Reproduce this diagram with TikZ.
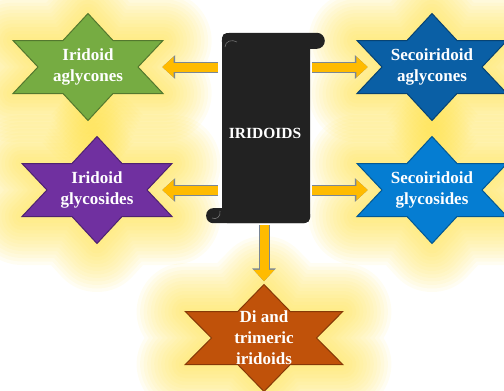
\documentclass[tikz,border=0pt]{standalone}
\usepackage{fontspec}
\setmainfont{Liberation Serif}
\usetikzlibrary{arrows.meta, positioning}

\definecolor{greenstar}{HTML}{76AC42}
\definecolor{purplestar}{HTML}{7030A0}
\definecolor{darkbluestar}{HTML}{0A5FA5}
\definecolor{bluestar}{HTML}{057DD2}
\definecolor{brownstar}{HTML}{C0520A}
\definecolor{scrollblack}{HTML}{222222}
\definecolor{arrowfill}{HTML}{FFBB00}
\definecolor{arrowedge}{HTML}{7A8796}
\definecolor{glowyellow}{HTML}{FFE040}

\def\hexstarpts{(0,-53.5) -- (25,-26.5) -- (75,-26.5) -- (50,0) -- (75,26.5) -- (25,26.5)
  -- (0,53.5) -- (-25,26.5) -- (-75,26.5) -- (-50,0) -- (-75,-26.5) -- (-25,-26.5) -- cycle}

\tikzset{
  starlabel/.style={minimum width=150pt, minimum height=107pt, inner sep=0pt,
    text=white, align=center, font=\fontsize{17}{21}\selectfont\bfseries},
  glow/.style={draw=glowyellow, opacity=0.065, line join=round},
  arrowback/.style={line width=11pt, draw=arrowedge, -{Triangle[width=23pt,length=13pt]}},
  arrowfront/.style={line width=9pt, draw=arrowfill, shorten <=1pt, -{Triangle[width=20pt,length=11.4pt]}},
  scrollbody/.style={fill=scrollblack, rounded corners=5pt, minimum width=88pt,
    minimum height=190pt, inner sep=0pt},
  curl/.style={draw=black!55, line width=0.6pt}
}

\begin{document}
\begin{tikzpicture}[x=1pt, y=-1pt]
  \useasboundingbox (0,0) rectangle (504,391);
  \clip (0,0) rectangle (504,391);

  \node[starlabel] (iagly) at (88,67) {};
  \node[starlabel] (iglyc) at (97,190) {};
  \node[starlabel] (sagly) at (432,67) {};
  \node[starlabel] (sglyc) at (432,190) {};
  \node[starlabel, minimum width=158pt] (ditri) at (264,338) {};

  \foreach \n/\s in {iagly/1, iglyc/1, sagly/1, sglyc/1, ditri/1.05}
    \foreach \w in {6,13,...,97}
      \draw[glow, line width=\w pt, shift={(\n.center)}, xscale=\s] \hexstarpts;

  \foreach \n/\c/\s in {iagly/greenstar/1, iglyc/purplestar/1, sagly/darkbluestar/1,
                        sglyc/bluestar/1, ditri/brownstar/1.05}
    \draw[fill=\c, draw=\c!70!black, line width=1pt, shift={(\n.center)}, xscale=\s] \hexstarpts;

  \node[starlabel] at (iagly) {Iridoid\\aglycones};
  \node[starlabel] at (iglyc) {Iridoid\\glycosides};
  \node[starlabel] at (sagly) {Secoiridoid\\aglycones};
  \node[starlabel] at (sglyc) {Secoiridoid\\glycosides};
  \node[starlabel, minimum width=158pt] at (ditri) {Di and\\trimeric\\iridoids};

  \node[scrollbody] (iridoids) at (266,128) {};
  \fill[scrollblack, rounded corners=8pt] (iridoids.north west) rectangle ++(103,16);
  \fill[scrollblack, rounded corners=7pt] (iridoids.south east) rectangle ++(-104,-15);
  \draw[curl] (225,47) .. controls (225,41) and (232,39) .. (237,42);
  \draw[curl] (212,218) .. controls (216,220) and (221,217) .. (220,211);
  \node[text=white, font=\fontsize{15.5}{18}\selectfont\bfseries] (title) at (265,133) {IRIDOIDS};

  \foreach \st in {arrowback, arrowfront} {
    \draw[\st, shorten <=4pt] (iridoids.west |- iagly) -- ([xshift=-1pt]iagly.east);
    \draw[\st, shorten <=4pt] (iridoids.west |- iglyc) -- ([xshift=-10pt]iglyc.east);
    \draw[\st, shorten <=2pt] (iridoids.east |- sagly) -- ([xshift=11pt]sagly.west);
    \draw[\st, shorten <=2pt] (iridoids.east |- sglyc) -- ([xshift=11pt]sglyc.west);
    \draw[\st, shorten <=2pt] (iridoids.south -| ditri) -- ([yshift=3pt]ditri.north);
  }
\end{tikzpicture}
\end{document}
